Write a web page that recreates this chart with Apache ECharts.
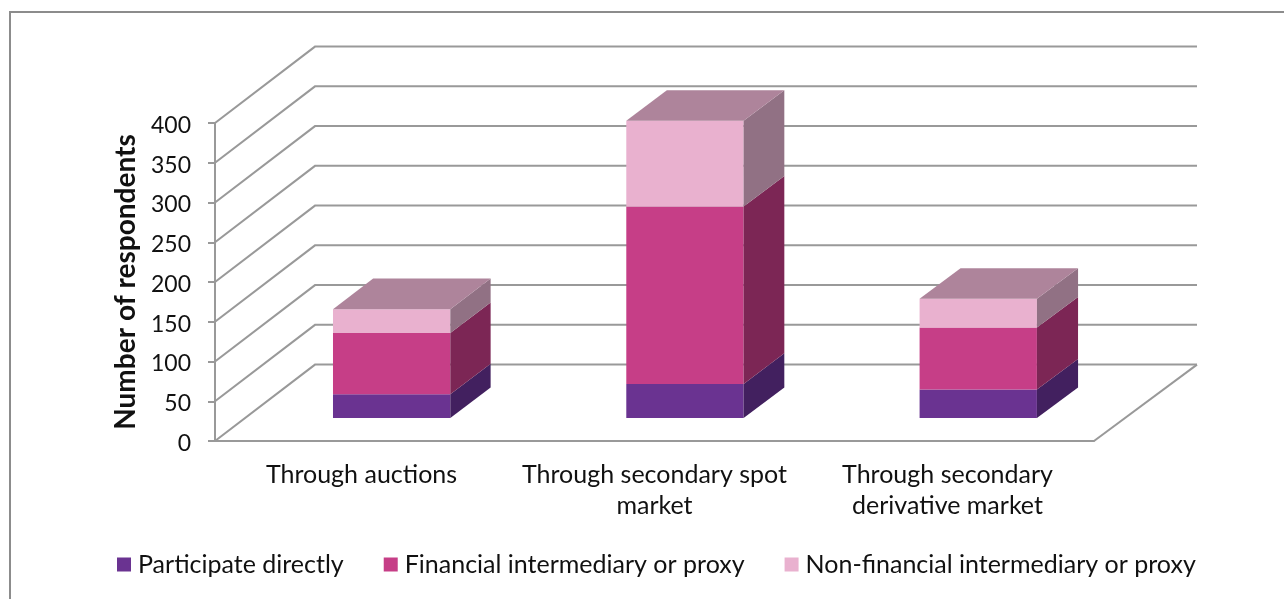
<!DOCTYPE html>
<html>

<head>
    <meta charset="utf-8">
    <title>Number of respondents</title>
    <script src="https://cdn.jsdelivr.net/npm/echarts@6/dist/echarts.min.js"></script>
    <style>
        html, body { margin: 0; padding: 0; background: #fff; }
    </style>
</head>

<body>
    <div id="main" style="width: 1284px;height:599px;"></div>
    <script type="text/javascript">
        var categories = ['Through auctions', 'Through secondary spot\nmarket', 'Through secondary\nderivative market'];
        var seriesNames = ['Participate directly', 'Financial intermediary or proxy', 'Non-financial intermediary or proxy'];
        var direct = [30, 43, 36];
        var financial = [77, 223, 78];
        var nonFinancial = [30, 108, 36];
        var yTicks = [0, 50, 100, 150, 200, 250, 300, 350, 400];

        // front, side, top colours of each stack
        var frontColors = ['#6a3391', '#c63e87', '#e9b1cf'];
        var sideColors = ['#42205f', '#7c2655', '#917184'];
        var topColor = '#ae849b';
        var gridColor = '#999999';
        var textColor = '#111';
        var fontName = 'Lato';

        // depth of the fake 3d box, in pixels (slightly wider on the right side)
        var depthX = 100;
        var depthXRight = 103;
        var depthY = 76.4;
        var gridLeft = 215;
        var gridWidth = 879;
        var barFrom = 0.3;
        var barTo = 0.7;
        var barShare = 0.4;

        function poly(points, color) {
            return { type: 'polygon', shape: { points: points }, style: { fill: color }, silent: true };
        }

        // moves a point on the front plane k of the way to the back wall
        function shift(p, k) {
            var t = (p[0] - gridLeft) / gridWidth;
            return [p[0] + (depthX + (depthXRight - depthX) * t) * k, p[1] - depthY * k];
        }

        function wallItem(params, api) {
            var y = api.coord([0, api.value(1)])[1];
            var box = params.coordSys;
            var left = box.x;
            var right = box.x + box.width;
            var lineStyle = { stroke: gridColor, lineWidth: 2, fill: null };
            var children = [{
                type: 'polyline',
                shape: { points: [[left, y], shift([left, y], 1), shift([right, y], 1)] },
                style: lineStyle
            }];
            if (api.value(1) === 0) {
                var end = shift([right, y], 1);
                children.push({
                    type: 'line',
                    shape: { x1: right, y1: y, x2: end[0], y2: end[1] },
                    style: lineStyle
                });
            }
            return { type: 'group', children: children };
        }

        function stackItem(index, stacks) {
            return function(params, api) {
                var cat = api.value(0);
                var base = 0;
                for (var i = 0; i < index; i++) {
                    base += stacks[i][cat];
                }
                var low = api.coord([cat, base]);
                var high = api.coord([cat, base + api.value(1)]);
                var half = api.size([1, 0])[0] * barShare / 2;

                var a = shift([low[0] - half, low[1]], barFrom);
                var b = shift([low[0] + half, low[1]], barFrom);
                var c = shift([low[0] + half, high[1]], barFrom);
                var d = shift([low[0] - half, high[1]], barFrom);
                var k = barTo - barFrom;

                var children = [
                    poly([a, b, c, d], frontColors[index]),
                    poly([b, shift(b, k), shift(c, k), c], sideColors[index])
                ];
                if (index === stacks.length - 1) {
                    children.push(poly([d, c, shift(c, k), shift(d, k)], topColor));
                }
                return { type: 'group', children: children };
            };
        }

        var stacks = [direct, financial, nonFinancial];
        var series = [{
            name: 'walls',
            type: 'custom',
            renderItem: wallItem,
            encode: { x: 0, y: 1 },
            data: yTicks.map(function(t) { return [0, t]; }),
            z: 1
        }];
        stacks.forEach(function(values, i) {
            series.push({
                name: seriesNames[i],
                type: 'custom',
                renderItem: stackItem(i, stacks),
                encode: { x: 0, y: 1 },
                itemStyle: { color: frontColors[i] },
                data: values.map(function(v, c) { return [c, v]; }),
                z: 2 + i
            });
        });

        var myChart = echarts.init(document.getElementById('main'));
        var option = {
            animation: false,
            backgroundColor: '#fff',
            textStyle: { fontFamily: fontName, color: textColor },
            grid: { left: gridLeft, width: gridWidth, top: 123, bottom: 158 },
            graphic: [{
                type: 'polyline',
                shape: { points: [[10, 599], [10, 12], [1284, 12]] },
                style: { stroke: '#8c8c8c', lineWidth: 2, fill: null },
                silent: true
            }],
            legend: {
                data: seriesNames.map(function(n, i) {
                    return { name: n, icon: 'rect', itemStyle: { color: frontColors[i] } };
                }),
                left: 112,
                top: 547,
                itemWidth: 14,
                itemHeight: 14,
                itemGap: 40,
                textStyle: { fontFamily: fontName, fontSize: 25, color: textColor, padding: [0, 0, 0, 2] }
            },
            xAxis: {
                type: 'category',
                data: categories,
                axisLine: { lineStyle: { color: gridColor, width: 2 } },
                axisTick: { length: 7, lineStyle: { color: gridColor, width: 2 } },
                axisLabel: { fontFamily: fontName, fontSize: 25, color: textColor, margin: 18, lineHeight: 31, interval: 0 }
            },
            yAxis: {
                type: 'value',
                min: 0,
                max: 400,
                interval: 50,
                name: 'Number of respondents',
                nameLocation: 'middle',
                nameRotate: 90,
                nameGap: 73,
                nameTextStyle: { fontFamily: fontName, fontSize: 28, fontWeight: 'bold', color: textColor },
                axisLine: { show: true, lineStyle: { color: gridColor, width: 2 } },
                axisTick: { show: true, length: 7, lineStyle: { color: gridColor, width: 2 } },
                axisLabel: { fontFamily: fontName, fontSize: 23, color: textColor, margin: 24, verticalAlign: 'top', lineHeight: 5 },
                splitLine: { show: false }
            },
            series: series
        };
        myChart.setOption(option);
    </script>
</body>

</html>
